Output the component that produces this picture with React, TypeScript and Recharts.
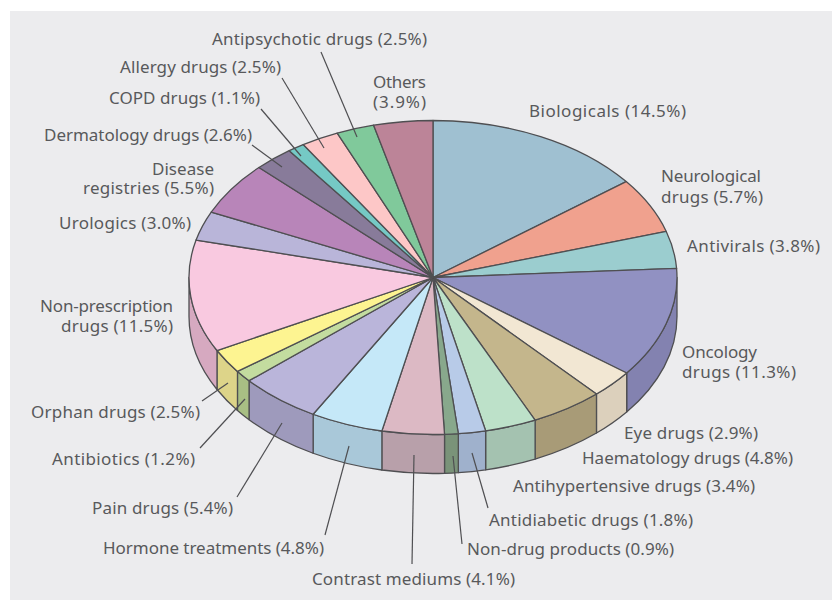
import React from 'react';
import { PieChart, Pie } from 'recharts';

const names = [
  'Biologicals', 'Neurological drugs', 'Antivirals', 'Oncology drugs', 'Eye drugs', 'Haematology drugs',
  'Antihypertensive drugs', 'Antidiabetic drugs', 'Non-drug products', 'Contrast mediums', 'Hormone treatments',
  'Pain drugs', 'Antibiotics', 'Orphan drugs', 'Non-prescription drugs', 'Urologics', 'Disease registries',
  'Dermatology drugs', 'COPD drugs', 'Allergy drugs', 'Antipsychotic drugs', 'Others',
];
const shares = [14.5, 5.7, 3.8, 11.3, 2.9, 4.8, 3.4, 1.8, 0.9, 4.1, 4.8, 5.4, 1.2, 2.5, 11.5, 3.0, 5.5, 2.6, 1.1, 2.5, 2.5, 3.9];
const topColors = [
  '#9fc0d1', '#f0a18e', '#9bcdcf', '#9191c2', '#f2e7d3', '#c4b68c', '#bde1c9', '#b8cbe8', '#88a88c', '#dcb9c4', '#c5e8f8',
  '#bab5da', '#c3dc9f', '#fdf491', '#f9c9e0', '#b9b5d9', '#b885b9', '#887b9a', '#75c9c5', '#fdc7c7', '#80c99b', '#bc8498',
];
const sideColors = [
  '#8aa6b5', '#d08b7a', '#86b2b4', '#8382b0', '#dcd0bc', '#a89b77', '#a4c2b0', '#9fb1cc', '#7a9379', '#b8a0aa', '#a9c8d9',
  '#9e9abc', '#a8bf84', '#ddd489', '#d6a9c0', '#a09cbc', '#a073a0', '#766a86', '#65aeaa', '#dcacac', '#6eae86', '#a37284',
];

const data = names.map((name, i) => ({ name, value: shares[i], fill: topColors[i] }));

// one row per text line: [text, left x, right x, baseline]; lead is the leader line (label end -> inside the slice)
const labelLayout: any[] = [
  { rows: [['Biologicals (14.5%)', 529, 686, 117]] },
  { rows: [['Neurological', 661, 761, 182], ['drugs (5.7%)', 661, 763, 203]] },
  { rows: [['Antivirals (3.8%)', 687, 820, 252]] },
  { rows: [['Oncology', 682, 757, 358], ['drugs (11.3%)', 682, 796, 378]] },
  { rows: [['Eye drugs (2.9%)', 624, 758, 439]] },
  { rows: [['Haematology drugs (4.8%)', 582, 793, 464]] },
  { rows: [['Antihypertensive drugs (3.4%)', 513, 755, 492]] },
  { rows: [['Antidiabetic drugs (1.8%)', 489, 693, 526]], lead: [488, 508, 472, 453] },
  { rows: [['Non-drug products (0.9%)', 467, 674, 555]], lead: [462, 544, 453, 456] },
  { rows: [['Contrast mediums (4.1%)', 312, 515, 585]], lead: [412, 564, 414, 455] },
  { rows: [['Hormone treatments (4.8%)', 103, 324, 554]], lead: [325, 535, 349, 446] },
  { rows: [['Pain drugs (5.4%)', 92, 233, 514]], lead: [237, 497, 282, 423] },
  { rows: [['Antibiotics (1.2%)', 52, 195, 465]], lead: [200, 448, 245, 399] },
  { rows: [['Orphan drugs (2.5%)', 31, 200, 418]], lead: [202, 401, 228, 383] },
  { rows: [['Non-prescription', 40, 173, 312], ['drugs (11.5%)', 61, 173, 332]] },
  { rows: [['Urologics (3.0%)', 59, 191, 229]] },
  { rows: [['Disease', 152, 214, 175], ['registries (5.5%)', 83, 214, 194]] },
  { rows: [['Dermatology drugs (2.6%)', 44, 252, 141]], lead: [252, 145, 282, 167] },
  { rows: [['COPD drugs (1.1%)', 109, 260, 104]], lead: [261, 109, 301, 156] },
  { rows: [['Allergy drugs (2.5%)', 120, 281, 73]], lead: [282, 78, 324, 148] },
  { rows: [['Antipsychotic drugs (2.5%)', 212, 427, 45]], lead: [321, 52, 357, 137] },
  { rows: [['Others', 373, 426, 88], ['(3.9%)', 373, 426, 108]] },
];

const CX = 433;
const CY = 277.5;
const RX = 244;
const RY = 157;
const DEPTH = 39;
const EDGE = '#4f4f52';

const px = (a: number) => CX + RX * Math.cos((a * Math.PI) / 180);
const py = (a: number) => CY - RY * Math.sin((a * Math.PI) / 180);

function TopSlice(props: any) {
  const { startAngle: a, endAngle: b, fill } = props;
  const large = Math.abs(a - b) > 180 ? 1 : 0;
  const d = `M${CX},${CY}L${px(a)},${py(a)}A${RX},${RY} 0 ${large} 1 ${px(b)},${py(b)}Z`;
  return <path d={d} fill={fill} stroke={EDGE} strokeWidth={1.3} strokeLinejoin="round" />;
}

function SideSlice(props: any) {
  // only the front half of the disc shows its side (angles run 90 -> -270)
  const a = Math.min(props.startAngle, 0);
  const b = Math.max(props.endAngle, -180);
  if (a <= b) return null;
  const d =
    `M${px(a)},${py(a)}A${RX},${RY} 0 0 1 ${px(b)},${py(b)}` +
    `L${px(b)},${py(b) + DEPTH}A${RX},${RY} 0 0 0 ${px(a)},${py(a) + DEPTH}Z`;
  return <path d={d} fill={sideColors[names.indexOf(props.name)]} stroke={EDGE} strokeWidth={1.3} strokeLinejoin="round" />;
}

function SliceLabel(props: any) {
  const l = labelLayout[props.index];
  return (
    <g>
      {l.rows.map(([t, x0, x1, y]: any) => (
        <text
          key={t}
          x={x0}
          y={y}
          textLength={x1 - x0}
          lengthAdjust="spacing"
          fill="#58595b"
          fontSize={17}
          fontFamily="'Noto Sans', sans-serif"
        >
          {t}
        </text>
      ))}
    </g>
  );
}

function LeaderLine(props: any) {
  const l = labelLayout[props.index];
  if (!l.lead) return <g />;
  const [x1, y1, x2, y2] = l.lead;
  return <line x1={x1} y1={y1} x2={x2} y2={y2} stroke={EDGE} strokeWidth={1.2} />;
}

export default function App() {
  return (
    <div style={{ position: 'absolute', left: 0, top: 0, width: 832, height: 600, background: '#fff' }}>
      <div style={{ position: 'absolute', left: 10, top: 11, width: 822, height: 589, background: '#ececee' }} />
      <div style={{ position: 'absolute', left: 0, top: 0 }}>
        <PieChart width={832} height={600} margin={{ top: 0, right: 0, bottom: 0, left: 0 }}>
          <Pie
            data={data}
            dataKey="value"
            nameKey="name"
            cx={CX}
            cy={CY}
            outerRadius={RX}
            startAngle={90}
            endAngle={-270}
            shape={SideSlice}
            isAnimationActive={false}
          />
          <Pie
            data={data}
            dataKey="value"
            nameKey="name"
            cx={CX}
            cy={CY}
            outerRadius={RX}
            startAngle={90}
            endAngle={-270}
            shape={TopSlice}
            label={SliceLabel}
            labelLine={LeaderLine}
            isAnimationActive={false}
          />
        </PieChart>
      </div>
    </div>
  );
}
